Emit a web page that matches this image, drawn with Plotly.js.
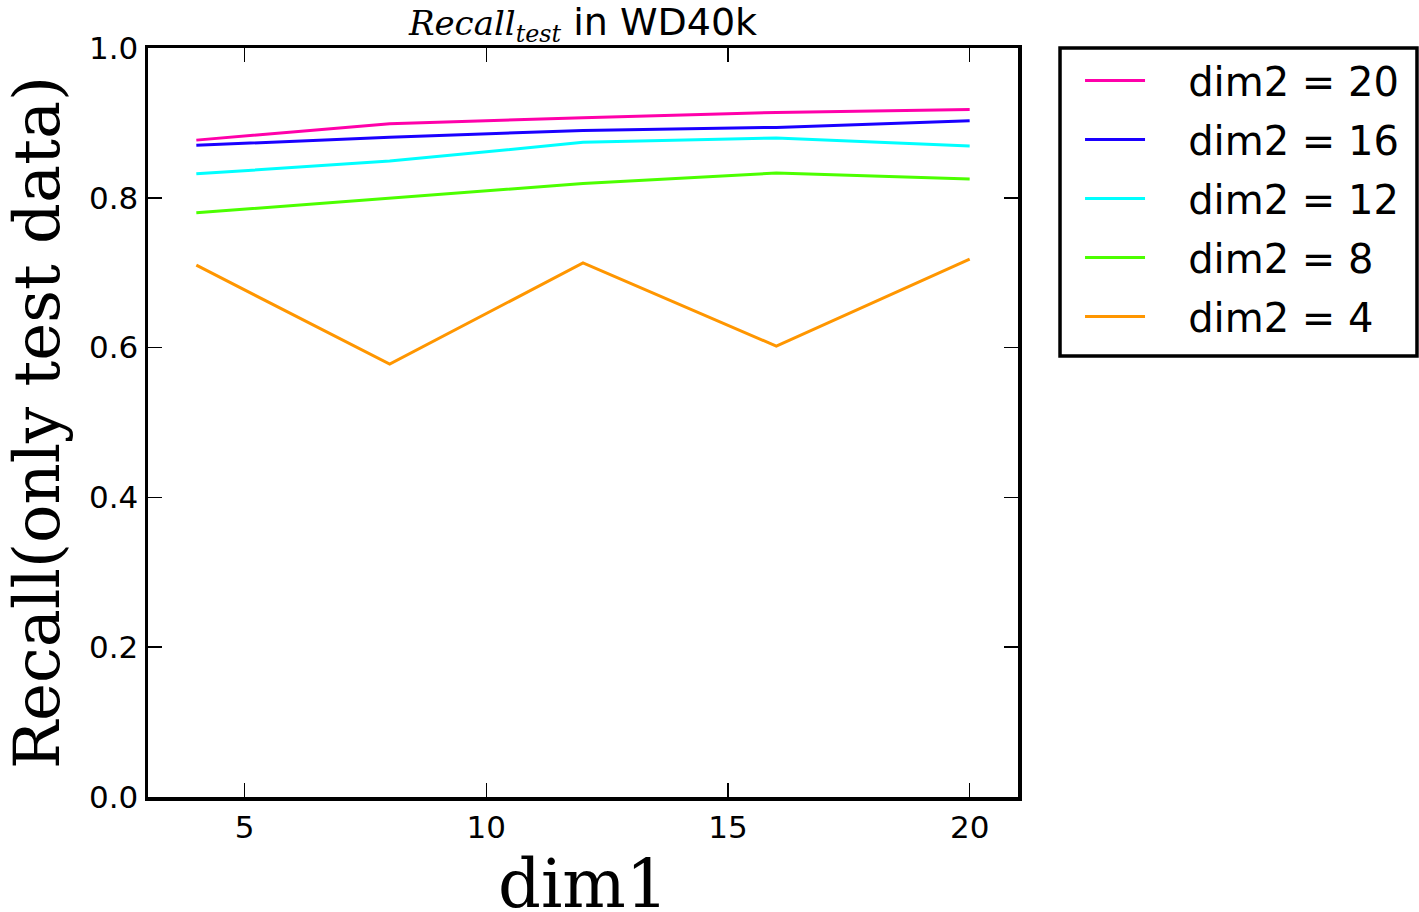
<!DOCTYPE html>
<html>
<head>
<meta charset="utf-8">
<script src="https://cdn.plot.ly/plotly-3.0.1.min.js"></script>
<style>html,body{margin:0;padding:0;background:#fff;}#chart{width:1419px;height:912px;}</style>
</head>
<body>
<div id="chart"></div>
<script>
const dim1 = [4, 8, 12, 16, 20];
const seriesNames = ["dim2 = 20", "dim2 = 16", "dim2 = 12", "dim2 = 8", "dim2 = 4"];
const recall_dim2_20 = [0.877, 0.899, 0.907, 0.914, 0.918];
const recall_dim2_16 = [0.870, 0.881, 0.890, 0.894, 0.903];
const recall_dim2_12 = [0.832, 0.849, 0.874, 0.880, 0.869];
const recall_dim2_8  = [0.780, 0.800, 0.819, 0.833, 0.825];
const recall_dim2_4  = [0.710, 0.578, 0.713, 0.602, 0.718];
const seriesValues = [recall_dim2_20, recall_dim2_16, recall_dim2_12, recall_dim2_8, recall_dim2_4];
const colors = ["#ff00aa", "#1a00ff", "#00ffff", "#4cff00", "#ff9600"];
const yTicks = [0.0, 0.2, 0.4, 0.6, 0.8, 1.0];
const yTickLabels = ["0.0", "0.2", "0.4", "0.6", "0.8", "1.0"];
const xTicks = [5, 10, 15, 20];

const pad = '\u00a0\u00a0\u00a0';
const traces = seriesValues.map((vals, i) => ({
  x: dim1, y: vals, type: 'scatter', mode: 'lines', name: pad + seriesNames[i],
  legendgroup: 'g' + i,
  line: {color: colors[i], width: 3}
}));

const axisCommon = {
  showline: true, linecolor: '#000', linewidth: 3.5, mirror: 'ticks',
  ticks: 'inside', ticklen: 14, tickwidth: 1.5, tickcolor: '#000',
  showgrid: false, zeroline: false,
  tickfont: {family: 'DejaVu Sans', size: 31, color: '#000'}
};

const layout = {
  width: 1419, height: 912,
  margin: {l: 148, r: 401, t: 48, b: 115},
  paper_bgcolor: '#fff', plot_bgcolor: '#fff',
  showlegend: true,
  title: {
    text: '<span style="font-family:\'DejaVu Serif\';font-size:34px"><i>Recall</i><sub><i>test</i></sub></span> in WD40k',
    font: {family: 'DejaVu Sans', size: 38, color: '#000'},
    x: 0.5, xref: 'paper', xanchor: 'center', y: 0.991, yanchor: 'top'
  },
  xaxis: Object.assign({}, axisCommon, {
    range: [3, 21], tickvals: xTicks, ticktext: xTicks.map(String)
  }),
  yaxis: Object.assign({}, axisCommon, {
    range: [0, 1], tickvals: yTicks, ticktext: yTickLabels,
    title: {text: 'Recall(only test data)', font: {family: 'DejaVu Serif', size: 64, color: '#000'}, standoff: 16}
  }),
  annotations: [{
    text: 'dim1', xref: 'paper', yref: 'paper', x: 0.5, y: -0.116,
    xanchor: 'center', yanchor: 'middle', showarrow: false,
    font: {family: 'DejaVu Serif', size: 67, color: '#000'}
  }],
  legend: {
    x: 1.0713, xanchor: 'left', y: 1, yanchor: 'top',
    bgcolor: 'rgba(0,0,0,0)', borderwidth: 0,
    font: {family: 'DejaVu Sans', size: 40, color: '#000'},
    tracegroupgap: 4, itemwidth: 60
  },
  shapes: [{
    type: 'rect', xref: 'paper', yref: 'paper',
    x0: 1.0483, x1: 1.4586, y0: 0.5888, y1: 1.0,
    line: {color: '#000', width: 3.5}, fillcolor: 'rgba(0,0,0,0)', layer: 'above'
  }]
};

Plotly.newPlot('chart', traces, layout, {displayModeBar: false, staticPlot: true});
</script>
</body>
</html>
